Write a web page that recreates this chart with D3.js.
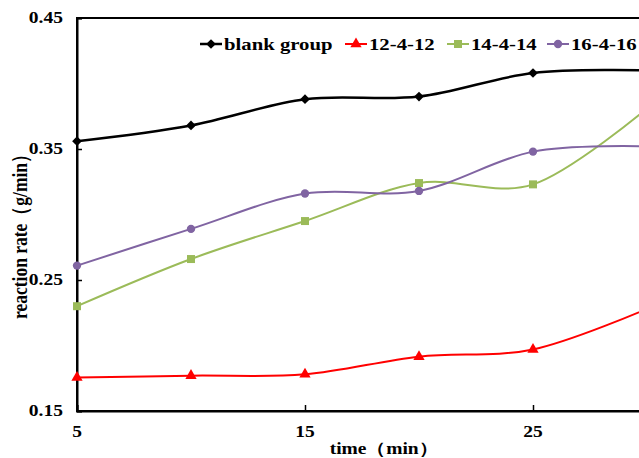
<!DOCTYPE html>
<html>
<head>
<meta charset="utf-8">
<script src="https://cdn.jsdelivr.net/npm/d3@7"></script>
<style>
  body { margin: 0; background: #fff; }
  text { font-family: "Liberation Serif", "Times New Roman", serif; font-weight: bold; fill: #000; }
</style>
</head>
<body>
<div id="chart"></div>
<script>
// data
var times = [5, 10, 15, 20, 25, 30];
var seriesNames = ["blank group", "12-4-12", "14-4-14", "16-4-16"];
var blankGroup = [0.356, 0.368, 0.388, 0.390, 0.408, 0.410];
var s12_4_12 = [0.1755, 0.177, 0.178, 0.1915, 0.197, 0.228];
var s14_4_14 = [0.230, 0.266, 0.295, 0.324, 0.323, 0.381];
var s16_4_16 = [0.261, 0.289, 0.316, 0.318, 0.348, 0.352];
var yTicks = [0.15, 0.25, 0.35, 0.45];
var xTicks = [5, 15, 25];

var W = 639, H = 458;
var stretch = 1.22; // picture is a bit wider than tall

var svg = d3.select("#chart").append("svg")
    .attr("width", W)
    .attr("height", H);

var x = d3.scaleLinear().domain([5, 30]).range([77, 647]);
var y = d3.scaleLinear().domain([0.15, 0.45]).range([411, 18]);

var series = [
    {name: seriesNames[0], values: blankGroup, color: "#000000", width: 2.5, marker: "diamond"},
    {name: seriesNames[1], values: s12_4_12, color: "#ff0000", width: 2, marker: "triangle"},
    {name: seriesNames[2], values: s14_4_14, color: "#9bbb59", width: 2, marker: "square"},
    {name: seriesNames[3], values: s16_4_16, color: "#8064a2", width: 2, marker: "circle"}
];

function symbolFor(m) {
    if (m == "diamond") return d3.symbol().type(d3.symbolDiamond2).size(60);
    if (m == "triangle") return d3.symbol().type(d3.symbolTriangle).size(55);
    if (m == "square") return d3.symbol().type(d3.symbolSquare).size(64);
    return d3.symbol().type(d3.symbolCircle).size(55);
}

// stretched text helper
function label(g, px, py, str, size, anchor) {
    g.append("text")
        .attr("transform", "translate(" + px + "," + py + ") scale(" + stretch + ",1)")
        .attr("text-anchor", anchor || "start")
        .attr("dominant-baseline", "central")
        .style("font-size", size + "px")
        .text(str);
}

// frame
svg.append("rect")
    .attr("x", x(5)).attr("y", y(0.45))
    .attr("width", x(30) - x(5)).attr("height", y(0.15) - y(0.45))
    .attr("fill", "none").attr("stroke", "#000").attr("stroke-width", 2);

// y axis
var yAxis = svg.append("g").attr("transform", "translate(" + x(5) + ",0)")
    .call(d3.axisRight(y).tickValues(yTicks).tickSize(5).tickFormat(""));
yAxis.select(".domain").attr("stroke-width", 2);
yAxis.selectAll(".tick line").attr("stroke-width", 1.5);
yTicks.forEach(function (t) {
    label(svg, 63, y(t), d3.format(".2f")(t), 16, "end");
});

// x axis
var xAxis = svg.append("g").attr("transform", "translate(0," + y(0.15) + ")")
    .call(d3.axisTop(x).tickValues(xTicks).tickSize(6).tickFormat(""));
xAxis.select(".domain").attr("stroke-width", 2);
xAxis.selectAll(".tick line").attr("stroke-width", 1.5);
xTicks.forEach(function (t) {
    label(svg, x(t), 432, String(t), 16, "middle");
});

// axis titles
label(svg, 384, 449, "time（min）", 16, "middle");
svg.append("text")
    .attr("transform", "translate(20,232) rotate(-90) scale(1," + stretch + ")")
    .attr("text-anchor", "middle")
    .attr("dominant-baseline", "central")
    .style("font-size", "17.5px")
    .text("reaction rate（g/min）");

// lines
var line = d3.line()
    .x(function (d, i) { return x(times[i]); })
    .y(function (d) { return y(d); })
    .curve(d3.curveCardinal.tension(0));

var plot = svg.append("g");
series.forEach(function (s) {
    plot.append("path")
        .attr("d", line(s.values))
        .attr("fill", "none")
        .attr("stroke", s.color)
        .attr("stroke-width", s.width);
    plot.selectAll(null)
        .data(s.values)
        .enter().append("path")
        .attr("transform", function (d, i) { return "translate(" + x(times[i]) + "," + y(d) + ")"; })
        .attr("d", symbolFor(s.marker)())
        .attr("fill", s.color);
});

// legend
var legendX = [200, 345, 447, 547];
var legend = svg.append("g");
series.forEach(function (s, i) {
    var lx = legendX[i], ly = 44;
    legend.append("line")
        .attr("x1", lx).attr("x2", lx + 22)
        .attr("y1", ly).attr("y2", ly)
        .attr("stroke", s.color).attr("stroke-width", s.width);
    legend.append("path")
        .attr("transform", "translate(" + (lx + 11) + "," + ly + ")")
        .attr("d", symbolFor(s.marker)())
        .attr("fill", s.color);
    label(legend, lx + 24, ly, s.name, 17, "start");
});
</script>
</body>
</html>
